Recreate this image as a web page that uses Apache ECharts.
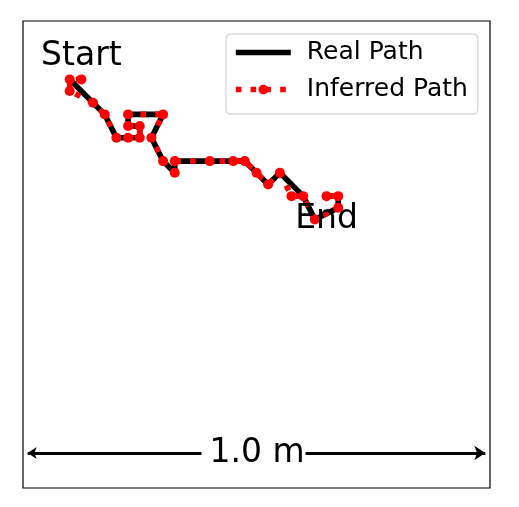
<!DOCTYPE html>
<html>
<head>
<meta charset="utf-8">
<script src="https://cdn.jsdelivr.net/npm/echarts@6/dist/echarts.min.js"></script>
<style>
  html, body { margin: 0; padding: 0; background: #fff; }
  #chart { width: 519px; height: 507px; }
</style>
</head>
<body>
<div id="chart"></div>
<script>
// positions in metres, 1.0 m across the box
var realX = [0.1, 0.175, 0.2, 0.25, 0.25, 0.225, 0.225, 0.3, 0.275, 0.3, 0.325, 0.325, 0.475, 0.525, 0.55, 0.6, 0.625, 0.675, 0.675, 0.65];
var realY = [0.875, 0.8, 0.75, 0.75, 0.775, 0.775, 0.8, 0.8, 0.75, 0.7, 0.675, 0.7, 0.7, 0.65, 0.675, 0.625, 0.575, 0.6, 0.625, 0.625];

var inferredX = [0.125, 0.1, 0.1, 0.15, 0.175, 0.2, 0.225, 0.25, 0.25, 0.225, 0.225, 0.3, 0.275, 0.3, 0.325, 0.325, 0.4, 0.45, 0.475, 0.5, 0.525, 0.55, 0.575, 0.6, 0.625, 0.675, 0.675, 0.65];
var inferredY = [0.875, 0.875, 0.85, 0.825, 0.8, 0.75, 0.75, 0.75, 0.775, 0.775, 0.8, 0.8, 0.75, 0.7, 0.675, 0.7, 0.7, 0.7, 0.7, 0.675, 0.65, 0.675, 0.625, 0.625, 0.575, 0.6, 0.625, 0.625];

var legendNames = ['Real Path', 'Inferred Path'];
var scaleBarX = [0.01, 0.99];
var scaleBarY = 0.075;
var scaleBarText = '1.0 m';

var font = 'DejaVu Sans';
var bigText = { fontFamily: font, fontSize: 33, color: '#000', textBorderWidth: 0, opacity: 1 };

function pairs(xs, ys) {
  var out = [];
  xs.forEach(function (x, i) { out.push([x, ys[i]]); });
  return out;
}

var realData = pairs(realX, realY);
var inferredData = pairs(inferredX, inferredY);
var startPt = inferredData[0];
var endPt = inferredData[inferredData.length - 1];

var option = {
  animation: false,
  backgroundColor: '#fff',
  grid: {
    left: 23, top: 21, width: 467, height: 467,
    show: true, borderColor: '#000', borderWidth: 1.2, backgroundColor: 'transparent'
  },
  xAxis: { type: 'value', min: 0, max: 1, show: false },
  yAxis: { type: 'value', min: 0, max: 1, show: false },
  legend: {
    data: [
      {
        name: legendNames[0],
        itemStyle: { opacity: 0 },
        lineStyle: { color: '#000', width: 5.6, type: 'solid' }
      },
      {
        name: legendNames[1],
        itemStyle: { color: '#ff0000' },
        lineStyle: { color: '#ff0000', width: 5.6, type: [5.6, 9.2], cap: 'butt' }
      }
    ],
    orient: 'vertical',
    left: 226, top: 34,
    padding: [6, 10, 12, 7],
    itemGap: 12,
    itemWidth: 55,
    itemHeight: 12,
    backgroundColor: 'rgba(255,255,255,0.8)',
    borderColor: '#cccccc',
    borderWidth: 1,
    borderRadius: 4,
    selectedMode: false,
    textStyle: { fontFamily: font, fontSize: 25, color: '#000', padding: [0, 0, 0, 11] }
  },
  series: [
    {
      name: legendNames[0],
      type: 'line',
      data: realData,
      symbol: 'none',
      lineStyle: { color: '#000', width: 5.6 },
      itemStyle: { color: '#000' },
      z: 2
    },
    {
      name: legendNames[1],
      type: 'line',
      data: inferredData,
      symbol: 'circle',
      symbolSize: 10,
      showAllSymbol: true,
      lineStyle: { color: '#ff0000', width: 5.6, type: [5.6, 9.2], cap: 'butt' },
      itemStyle: { color: '#ff0000' },
      z: 3
    },
    {
      type: 'lines',
      coordinateSystem: 'cartesian2d',
      symbol: ['arrow', 'arrow'],
      symbolSize: [9, 11],
      lineStyle: { color: '#000', width: 3, opacity: 1 },
      data: [{ coords: [[scaleBarX[0], scaleBarY], [scaleBarX[1], scaleBarY]] }],
      z: 4
    },
    {
      type: 'scatter',
      symbolSize: 0,
      silent: true,
      itemStyle: { opacity: 1 },
      z: 6,
      data: [
        {
          value: startPt,
          label: Object.assign({ show: true, formatter: 'Start', position: 'top', distance: 6 }, bigText)
        },
        {
          value: endPt,
          label: Object.assign({ show: true, formatter: 'End', position: 'bottom', distance: 7 }, bigText)
        },
        {
          value: [(scaleBarX[0] + scaleBarX[1]) / 2, scaleBarY],
          label: Object.assign({
            show: true, formatter: scaleBarText, position: 'inside',
            backgroundColor: '#fff', padding: [2, 1, 2, 8], offset: [-3, 0]
          }, bigText)
        }
      ]
    }
  ]
};

var chart = echarts.init(document.getElementById('chart'), null, { renderer: 'canvas' });
chart.setOption(option);
</script>
</body>
</html>
